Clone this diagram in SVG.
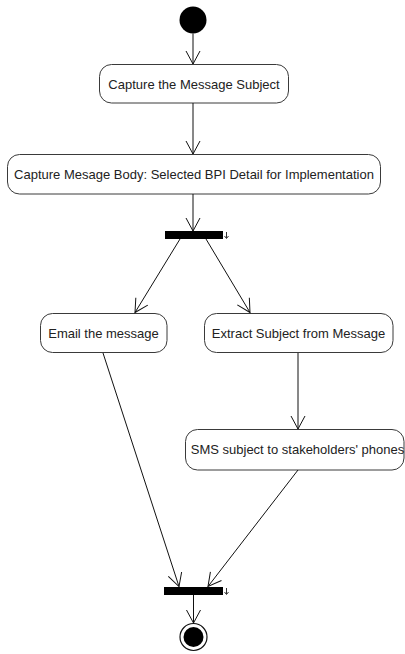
<svg xmlns="http://www.w3.org/2000/svg" width="405" height="654" viewBox="0 0 405 654">
  <style>
    .act rect { fill: #ffffff; stroke: #3a3a3a; stroke-width: 1; }
    .act text { font-family: "Liberation Sans", Arial, sans-serif; font-size: 13px; fill: #222222; text-anchor: middle; }
    .flow { fill: none; stroke: #111111; stroke-width: 1; marker-end: url(#open); }
    .bar { fill: #000000; }
    .tick { fill: none; stroke: #333333; stroke-width: 1; }
  </style>
  <defs>
    <marker id="open" markerUnits="userSpaceOnUse" markerWidth="20" markerHeight="20" refX="0" refY="0" viewBox="-15 -10 20 20" orient="auto" overflow="visible">
      <path d="M -13 -7 L 0 0 L -13 7" fill="none" stroke="#111111" stroke-width="1"/>
    </marker>
  </defs>

  <!-- start -->
  <g id="initial">
    <circle cx="193" cy="20" r="13.5" fill="#000000"/>
  </g>

  <g id="captureSubject" class="act">
    <rect x="99.5" y="64.5" width="189" height="38.5" rx="12" ry="12"/>
    <text x="194" y="88.5">Capture the Message Subject</text>
  </g>

  <g id="captureBody" class="act">
    <rect x="7.5" y="154.5" width="373" height="39.5" rx="12" ry="12"/>
    <text x="194" y="178.5">Capture Mesage Body: Selected BPI Detail for Implementation</text>
  </g>

  <g id="fork">
    <rect class="bar" x="165" y="231" width="58" height="8"/>
    <path class="tick" d="M 226.5 232 V 238 M 224.5 236 L 226.5 238.5 L 228.5 236"/>
  </g>

  <g id="emailMessage" class="act">
    <rect x="40.5" y="313.5" width="126.5" height="39" rx="12" ry="12"/>
    <text x="103.5" y="337.5">Email the message</text>
  </g>

  <g id="extractSubject" class="act">
    <rect x="204.5" y="313.5" width="188.5" height="39" rx="12" ry="12"/>
    <text x="298.5" y="337.5">Extract Subject from Message</text>
  </g>

  <g id="smsSubject" class="act">
    <rect x="185.5" y="429.5" width="218.5" height="40.5" rx="12" ry="12"/>
    <text x="297.5" y="454">SMS subject to stakeholders' phones</text>
  </g>

  <g id="join">
    <rect class="bar" x="164" y="587" width="59" height="8"/>
    <path class="tick" d="M 226.5 588 V 594 M 224.5 592 L 226.5 594.5 L 228.5 592"/>
  </g>

  <g id="final">
    <circle cx="193.5" cy="637" r="13.5" fill="#ffffff" stroke="#111111" stroke-width="1.2"/>
    <circle cx="193.5" cy="637" r="10" fill="#000000"/>
  </g>

  <!-- control flows -->
  <g id="connectors">
    <path class="flow" d="M 193 33.5 V 64"/>
    <path class="flow" d="M 193 103 V 154"/>
    <path class="flow" d="M 193 194 V 231"/>
    <path class="flow" d="M 180 239 L 135 312.5"/>
    <path class="flow" d="M 206 239 L 250 312.5"/>
    <path class="flow" d="M 298 353 V 429"/>
    <path class="flow" d="M 103 353 L 179 586.5"/>
    <path class="flow" d="M 298 470 L 208 586.5"/>
    <path class="flow" d="M 193.5 595 V 623"/>
  </g>
</svg>
